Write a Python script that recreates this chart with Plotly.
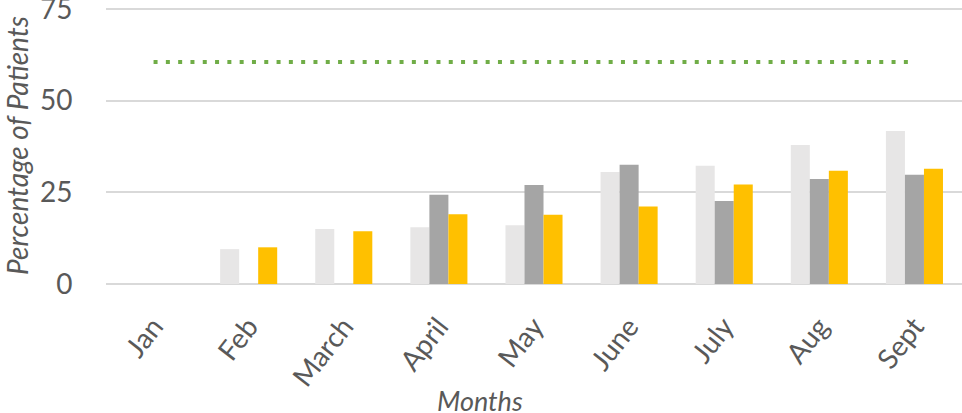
import plotly.graph_objects as go

months = ["Jan", "Feb", "March", "April", "May", "June", "July", "Aug", "Sept"]
series_a = [None, 9.5, 15.0, 15.5, 16.0, 30.5, 32.2, 37.9, 41.7]
series_b = [None, None, None, 24.3, 27.0, 32.5, 22.6, 28.6, 29.8]
series_c = [None, 10.0, 14.4, 19.0, 18.9, 21.1, 27.1, 30.9, 31.4]
target = [60.5] * len(months)

FONT = "Lato"
TXT = "#595959"

fig = go.Figure()
fig.add_bar(x=months, y=series_a, name="Series 1", marker=dict(color="#E7E6E6", line=dict(width=0)))
fig.add_bar(x=months, y=series_b, name="Series 2", marker=dict(color="#A5A5A5", line=dict(width=0)))
fig.add_bar(x=months, y=series_c, name="Series 3", marker=dict(color="#FFC000", line=dict(width=0)))
fig.add_scatter(x=months, y=target, mode="lines", name="Target",
                line=dict(color="#70AD47", width=4, dash="4px,8.3px"))

fig.update_layout(
    width=962, height=413,
    margin=dict(l=106, r=0, t=7, b=129, autoexpand=False),
    paper_bgcolor="white", plot_bgcolor="white",
    barmode="group", bargap=0.4, bargroupgap=0,
    showlegend=False,
    font=dict(family=FONT, color=TXT, size=26),
    annotations=[dict(text="<i>Months</i>", xref="paper", yref="paper",
                      x=0.437, y=-0.422, xanchor="center", yanchor="middle",
                      showarrow=False, font=dict(size=27, color=TXT, family=FONT))],
)
fig.update_xaxes(
    automargin=False,
    tickangle=-52, tickfont=dict(size=28, color=TXT, family=FONT),
    showgrid=False, showline=False,
    ticks="outside", ticklen=14, tickcolor="rgba(0,0,0,0)",
)
fig.update_yaxes(
    automargin=False, ticklabeloverflow="allow",
    range=[0, 75.5], tickvals=[0, 25, 50, 75],
    tickfont=dict(size=28, color=TXT, family=FONT),
    showgrid=True, gridcolor="#D9D9D9", gridwidth=1.5,
    zeroline=True, zerolinecolor="#D9D9D9", zerolinewidth=2,
    showline=False, ticks="outside", ticklen=27, tickcolor="rgba(0,0,0,0)",
    title=dict(text="<i>Percentage of Patients</i>", font=dict(size=28, color=TXT, family=FONT), standoff=14),
)

fig.write_html("out.html")
